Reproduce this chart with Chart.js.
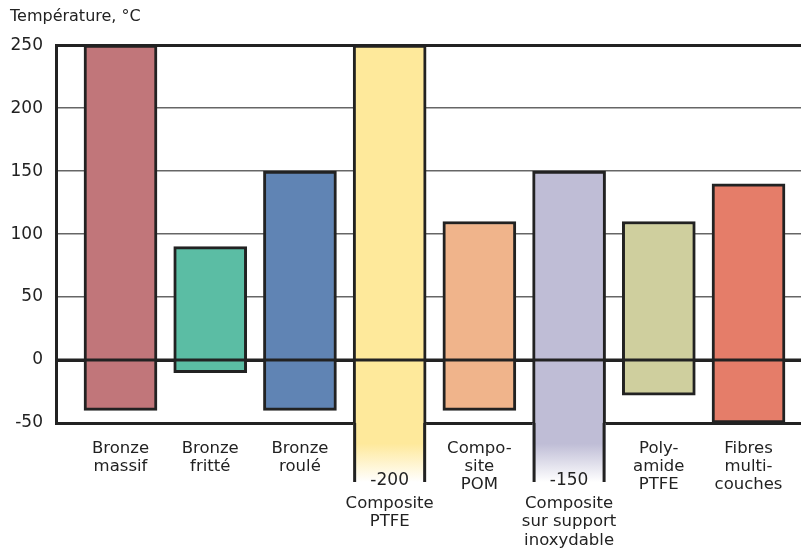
<!DOCTYPE html>
<html>
<head>
<meta charset="utf-8">
<script src="https://cdn.jsdelivr.net/npm/chart.js@4/dist/chart.umd.min.js"></script>
<style>
  html, body { margin: 0; padding: 0; background: #fff; }
  #wrap { width: 801px; height: 549px; }
</style>
</head>
<body>
<div id="wrap"><canvas id="chart"></canvas></div>
<script>
// Plages de température par matériau de palier
const CATEGORIES = [
  ["Bronze", "massif"],
  ["Bronze", "fritté"],
  ["Bronze", "roulé"],
  ["Composite", "PTFE"],
  ["Compo-", "site", "POM"],
  ["Composite", "sur support", "inoxydable"],
  ["Poly-", "amide", "PTFE"],
  ["Fibres", "multi-", "couches"],
];
const TEMP_MIN = [-40, -10, -40, -200, -40, -150, -28, -50];
const TEMP_MAX = [250, 90, 150, 250, 110, 150, 110, 140];
const BAR_COLORS = ["#c1767a", "#5bbda4", "#6084b4", "#fee99b", "#f0b48b", "#bfbdd6", "#cfcf9e", "#e57d69"];
const Y_TICKS = [-50, 0, 50, 100, 150, 200, 250];
const Y_TITLE = "Température, °C";

const Y_MIN = Y_TICKS[0];
const Y_MAX = Y_TICKS[Y_TICKS.length - 1];
const FONT = "'DejaVu Sans', sans-serif";
const INK = "#222222";

// bars partly below the axis are cut at the axis and continued with a fade
const barData = CATEGORIES.map((_, i) => ({ x: i, y: [Math.max(TEMP_MIN[i], Y_MIN), TEMP_MAX[i]] }));

const overAxisPlugin = {
  id: "overAxis",
  afterDatasetsDraw(chart) {
    const { ctx, chartArea, scales } = chart;
    const meta = chart.getDatasetMeta(0);
    ctx.save();
    meta.data.forEach((bar, i) => {
      if (TEMP_MIN[i] >= Y_MIN) return;
      const { x, width } = bar.getProps(["x", "width"], true);
      const top = chartArea.bottom;
      const bottom = top + 59;
      const left = x - width / 2;
      const g = ctx.createLinearGradient(0, top, 0, bottom);
      g.addColorStop(0, BAR_COLORS[i]);
      g.addColorStop(0.35, BAR_COLORS[i]);
      g.addColorStop(1, "#ffffff");
      ctx.fillStyle = g;
      ctx.fillRect(left, top, width, bottom - top);
      ctx.strokeStyle = INK;
      ctx.lineWidth = 3;
      ctx.beginPath();
      ctx.moveTo(left + 1.5, top);
      ctx.lineTo(left + 1.5, bottom);
      ctx.moveTo(left + width - 1.5, top);
      ctx.lineTo(left + width - 1.5, bottom);
      ctx.stroke();
      ctx.fillStyle = INK;
      ctx.font = "17px " + FONT;
      ctx.textAlign = "center";
      ctx.textBaseline = "middle";
      ctx.fillText(String(TEMP_MIN[i]), x, bottom - 1);
    });
    // zero line drawn on top of the bars
    const y0 = scales.y.getPixelForValue(0);
    ctx.strokeStyle = INK;
    ctx.lineWidth = 3;
    ctx.beginPath();
    ctx.moveTo(chartArea.left, y0);
    ctx.lineTo(chartArea.right, y0);
    ctx.stroke();
    ctx.restore();
  },
};

const strong = (v) => v === Y_MIN || v === Y_MAX || v === 0;

new Chart(document.getElementById("chart"), {
  type: "bar",
  data: {
    datasets: [
      {
        data: barData,
        backgroundColor: BAR_COLORS,
        borderColor: INK,
        borderWidth: 3,
        borderSkipped: (ctx) => (TEMP_MIN[ctx.dataIndex] < Y_MIN ? "bottom" : false),
        barThickness: 73,
      },
    ],
  },
  options: {
    responsive: true,
    maintainAspectRatio: false,
    animation: false,
    layout: { padding: { left: 10, right: 0, top: 0, bottom: 0 } },
    plugins: {
      legend: { display: false },
      tooltip: { enabled: false },
      title: {
        display: true,
        text: Y_TITLE,
        align: "start",
        color: INK,
        font: { family: FONT, size: 16, weight: "normal" },
        padding: { top: 7, bottom: 19 },
      },
    },
    scales: {
      x: {
        type: "linear",
        min: -0.719,
        max: 7.585,
        offset: false,
        grid: { display: false, drawTicks: false },
        border: { display: false },
        ticks: {
          stepSize: 1,
          includeBounds: false,
          autoSkip: false,
          maxRotation: 0,
          padding: 16,
          color: INK,
          font: { family: FONT, size: 16.5, lineHeight: 1.12 },
          callback: (v) => {
            if (!Number.isInteger(v) || !CATEGORIES[v]) return "";
            return TEMP_MIN[v] < Y_MIN ? ["", "", "", ...CATEGORIES[v]] : CATEGORIES[v];
          },
        },
        afterFit: (s) => { s.height = 126; },
      },
      y: {
        min: Y_MIN,
        max: Y_MAX,
        afterBuildTicks: (s) => { s.ticks = Y_TICKS.map((v) => ({ value: v })); },
        grid: {
          drawTicks: false,
          color: (ctx) => (strong(ctx.tick.value) ? INK : "#666666"),
          lineWidth: (ctx) => (strong(ctx.tick.value) ? 3 : 1.5),
        },
        border: { display: true, color: INK, width: 3 },
        ticks: {
          padding: 13,
          color: INK,
          font: { family: FONT, size: 17 },
        },
        afterFit: (s) => { s.width = 46; },
      },
    },
  },
  plugins: [overAxisPlugin],
});
</script>
</body>
</html>
